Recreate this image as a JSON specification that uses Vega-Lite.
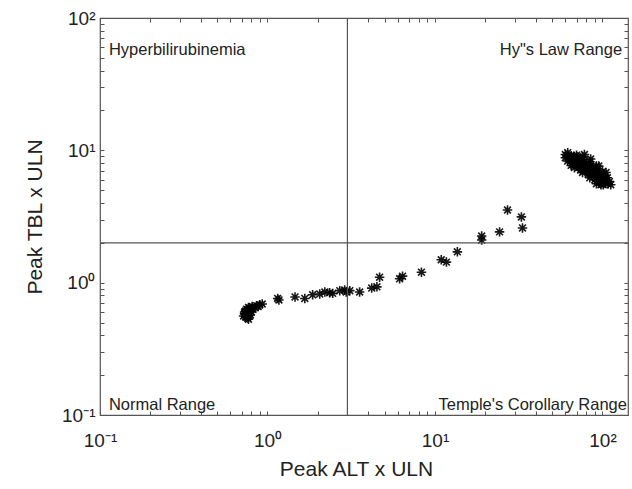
{
  "$schema": "https://vega.github.io/schema/vega-lite/v6.json",
  "width": 528,
  "height": 397,
  "autosize": "none",
  "padding": {"left": 100, "top": 18, "right": 4, "bottom": 74},
  "background": "white",
  "config": {
    "font": "Liberation Sans",
    "view": {"stroke": "#555555", "strokeWidth": 1.2},
    "axis": {
      "domain": false,
      "grid": false,
      "tickColor": "#555555",
      "tickWidth": 1,
      "tickSize": 4,
      "offset": -4,
      "labelFontSize": 19,
      "labelColor": "#222222",
      "labelOverlap": false,
      "labelFlush": false,
      "titleFontSize": 21,
      "titleFontWeight": "normal",
      "titleColor": "#222222"
    }
  },
  "datasets": {
    "pts": [
      {"x": 0.74, "y": 0.55}, {"x": 0.75, "y": 0.57}, {"x": 0.73, "y": 0.58}, {"x": 0.76, "y": 0.60},
      {"x": 0.74, "y": 0.61}, {"x": 0.77, "y": 0.56}, {"x": 0.78, "y": 0.59}, {"x": 0.75, "y": 0.63},
      {"x": 0.73, "y": 0.60}, {"x": 0.76, "y": 0.54}, {"x": 0.78, "y": 0.62}, {"x": 0.80, "y": 0.60},
      {"x": 0.79, "y": 0.64}, {"x": 0.77, "y": 0.65}, {"x": 0.82, "y": 0.63}, {"x": 0.81, "y": 0.66},
      {"x": 0.84, "y": 0.65}, {"x": 0.86, "y": 0.67}, {"x": 0.88, "y": 0.66}, {"x": 0.90, "y": 0.68},
      {"x": 0.93, "y": 0.69}, {"x": 0.74, "y": 0.58}, {"x": 0.75, "y": 0.56}, {"x": 0.76, "y": 0.62},
      {"x": 0.79, "y": 0.57}, {"x": 0.72, "y": 0.56}, {"x": 0.77, "y": 0.53},
      {"x": 1.15, "y": 0.76}, {"x": 1.17, "y": 0.74}, {"x": 1.46, "y": 0.78}, {"x": 1.67, "y": 0.76},
      {"x": 1.86, "y": 0.81}, {"x": 2.05, "y": 0.82}, {"x": 2.20, "y": 0.85}, {"x": 2.35, "y": 0.84},
      {"x": 2.45, "y": 0.83}, {"x": 2.70, "y": 0.87}, {"x": 2.89, "y": 0.88}, {"x": 3.10, "y": 0.87},
      {"x": 2.95, "y": 0.85}, {"x": 3.55, "y": 0.85}, {"x": 4.19, "y": 0.91}, {"x": 4.67, "y": 1.10},
      {"x": 4.50, "y": 0.93}, {"x": 6.15, "y": 1.07}, {"x": 6.40, "y": 1.12}, {"x": 8.30, "y": 1.20},
      {"x": 10.9, "y": 1.49}, {"x": 11.7, "y": 1.43}, {"x": 13.6, "y": 1.71}, {"x": 19.0, "y": 2.25},
      {"x": 19.0, "y": 2.10}, {"x": 24.3, "y": 2.42}, {"x": 27.1, "y": 3.54}, {"x": 32.8, "y": 3.14},
      {"x": 33.3, "y": 2.59},
      {"x": 60, "y": 9.3}, {"x": 62, "y": 9.6}, {"x": 63, "y": 8.9}, {"x": 65, "y": 9.1}, {"x": 64, "y": 8.5},
      {"x": 66, "y": 8.8}, {"x": 68, "y": 9.0}, {"x": 67, "y": 8.2}, {"x": 70, "y": 8.6}, {"x": 69, "y": 7.9},
      {"x": 72, "y": 8.3}, {"x": 71, "y": 8.9}, {"x": 74, "y": 8.0}, {"x": 73, "y": 7.6}, {"x": 76, "y": 8.4},
      {"x": 75, "y": 7.8}, {"x": 78, "y": 7.7}, {"x": 77, "y": 7.3}, {"x": 80, "y": 8.0}, {"x": 79, "y": 7.1},
      {"x": 82, "y": 7.5}, {"x": 81, "y": 6.9}, {"x": 84, "y": 7.6}, {"x": 85, "y": 7.0}, {"x": 83, "y": 7.9},
      {"x": 87, "y": 7.2}, {"x": 86, "y": 6.7}, {"x": 89, "y": 6.9}, {"x": 88, "y": 7.4}, {"x": 90, "y": 6.5},
      {"x": 92, "y": 7.0}, {"x": 91, "y": 6.3}, {"x": 94, "y": 6.6}, {"x": 95, "y": 6.2}, {"x": 93, "y": 6.9},
      {"x": 97, "y": 6.4}, {"x": 98, "y": 6.0}, {"x": 100, "y": 6.3}, {"x": 99, "y": 5.8}, {"x": 102, "y": 6.1},
      {"x": 104, "y": 5.7}, {"x": 103, "y": 6.4}, {"x": 106, "y": 5.9}, {"x": 108, "y": 5.6}, {"x": 110, "y": 5.8},
      {"x": 107, "y": 6.2}, {"x": 112, "y": 5.5}, {"x": 96, "y": 5.7}, {"x": 101, "y": 5.5}, {"x": 66, "y": 8.0},
      {"x": 72, "y": 7.4}, {"x": 80, "y": 7.4}, {"x": 88, "y": 6.5}, {"x": 60, "y": 8.8}, {"x": 62, "y": 8.3},
      {"x": 70, "y": 9.2}, {"x": 76, "y": 8.9}, {"x": 84, "y": 8.2}, {"x": 92, "y": 7.6}, {"x": 100, "y": 6.9},
      {"x": 74, "y": 7.1}, {"x": 82, "y": 6.6}, {"x": 90, "y": 6.0}, {"x": 98, "y": 5.5}, {"x": 65, "y": 7.7},
      {"x": 85, "y": 8.6}, {"x": 95, "y": 7.6}, {"x": 105, "y": 6.8}, {"x": 78, "y": 9.3},
      {"x": 68, "y": 7.4}, {"x": 76, "y": 6.8}, {"x": 84, "y": 6.2}, {"x": 92, "y": 5.6}
    ],
    "labsL": [
      {"x": 0.113, "y": 57, "t": "Hyperbilirubinemia"},
      {"x": 0.113, "y": 0.118, "t": "Normal Range"}
    ],
    "labsR": [
      {"x": 131, "y": 57, "t": "Hy\"s Law Range"},
      {"x": 140, "y": 0.118, "t": "Temple's Corollary Range"}
    ],
    "one": [{}]
  },
  "layer": [
    {
      "data": {"name": "pts"},
      "mark": {
        "type": "point",
        "shape": "M-1,0L1,0M0,-1L0,1M-0.72,-0.72L0.72,0.72M-0.72,0.72L0.72,-0.72",
        "filled": false,
        "stroke": "black",
        "strokeWidth": 1.6,
        "size": 90,
        "opacity": 0.9
      },
      "encoding": {
        "x": {
          "field": "x", "type": "quantitative",
          "scale": {"type": "log", "domain": [0.1, 142], "nice": false},
          "axis": {
            "orient": "bottom",
            "title": "Peak ALT x ULN",
            "titlePadding": 8,
            "titleX": 256,
            "labelPadding": 16,
            "values": [0.1,0.2,0.3,0.4,0.5,0.6,0.7,0.8,0.9,1,2,3,4,5,6,7,8,9,10,20,30,40,50,60,70,80,90,100],
            "labelExpr": "datum.value == 0.1 ? '10⁻¹' : datum.value == 1 ? '10⁰' : datum.value == 10 ? '10¹' : datum.value == 100 ? '10²' : ''"
          }
        },
        "y": {
          "field": "y", "type": "quantitative",
          "scale": {"type": "log", "domain": [0.1, 100], "nice": false},
          "axis": {
            "orient": "left",
            "title": "Peak TBL x ULN",
            "titlePadding": 16,
            "labelPadding": 5,
            "values": [0.1,0.2,0.3,0.4,0.5,0.6,0.7,0.8,0.9,1,2,3,4,5,6,7,8,9,10,20,30,40,50,60,70,80,90,100],
            "labelExpr": "datum.value == 0.1 ? '10⁻¹' : datum.value == 1 ? '10⁰' : datum.value == 10 ? '10¹' : datum.value == 100 ? '10²' : ''"
          }
        }
      }
    },
    {
      "data": {"name": "one"},
      "mark": {"type": "rule", "stroke": "#555555", "strokeWidth": 1.2},
      "encoding": {
        "x": {
          "datum": 3, "type": "quantitative",
          "scale": {"type": "log", "domain": [0.1, 142], "nice": false},
          "axis": {
            "orient": "top", "title": null, "labels": false,
            "values": [0.1,0.2,0.3,0.4,0.5,0.6,0.7,0.8,0.9,1,2,3,4,5,6,7,8,9,10,20,30,40,50,60,70,80,90,100]
          }
        }
      }
    },
    {
      "data": {"name": "one"},
      "mark": {"type": "rule", "stroke": "#555555", "strokeWidth": 1.2},
      "encoding": {
        "y": {
          "datum": 2, "type": "quantitative",
          "scale": {"type": "log", "domain": [0.1, 100], "nice": false},
          "axis": {
            "orient": "right", "title": null, "labels": false,
            "values": [0.1,0.2,0.3,0.4,0.5,0.6,0.7,0.8,0.9,1,2,3,4,5,6,7,8,9,10,20,30,40,50,60,70,80,90,100]
          }
        }
      }
    },
    {
      "data": {"name": "labsL"},
      "mark": {"type": "text", "align": "left", "baseline": "middle", "fontSize": 16.5, "fill": "#222222"},
      "encoding": {
        "x": {"field": "x", "type": "quantitative", "axis": null},
        "y": {"field": "y", "type": "quantitative", "axis": null},
        "text": {"field": "t"}
      }
    },
    {
      "data": {"name": "labsR"},
      "mark": {"type": "text", "align": "right", "baseline": "middle", "fontSize": 16.5, "fill": "#222222"},
      "encoding": {
        "x": {"field": "x", "type": "quantitative", "axis": null},
        "y": {"field": "y", "type": "quantitative", "axis": null},
        "text": {"field": "t"}
      }
    }
  ],
  "resolve": {"axis": {"x": "independent", "y": "independent"}}
}
